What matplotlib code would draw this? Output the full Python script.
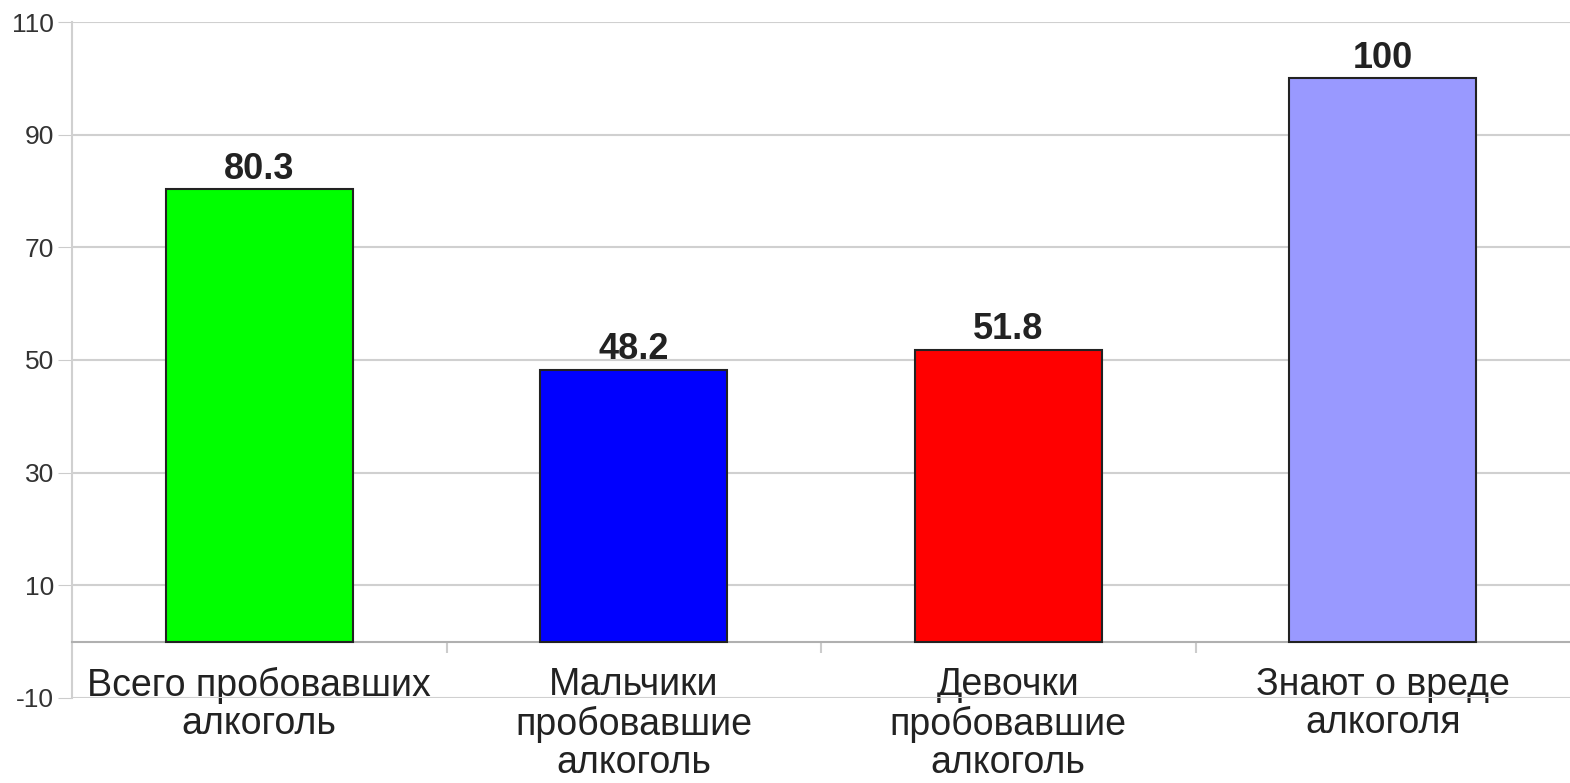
import numpy as np
import matplotlib.pyplot as plt
from matplotlib.ticker import FixedLocator

plt.rcParams['font.family'] = ['Liberation Sans', 'DejaVu Sans']
plt.rcParams['axes.unicode_minus'] = False

categories = ["Всего пробовавших\nалкоголь", "Мальчики\nпробовавшие\nалкоголь",
              "Девочки\nпробовавшие\nалкоголь", "Знают о вреде\nалкоголя"]
values = [80.3, 48.2, 51.8, 100]
value_labels = ["80.3", "48.2", "51.8", "100"]
colors = ["#00FF00", "#0000FF", "#FF0000", "#9999FF"]
yticks = [-10, 10, 30, 50, 70, 90, 110]

fig = plt.figure(figsize=(15.7, 7.83), dpi=100)
ax = fig.add_axes([0.0459, 0.1086, 0.9541, 0.8633])

x = np.arange(len(categories))
bars = ax.bar(x, values, width=0.5, color=colors, edgecolor="#222222", linewidth=1.5, zorder=3)

for xi, v, lab in zip(x, values, value_labels):
    ax.annotate(lab, (xi, v), xytext=(0, 2), textcoords="offset points",
                ha="center", va="bottom", fontsize=26, fontweight="bold", color="#222222")

ax.set_xlim(-0.5, len(categories) - 0.5)
ax.set_ylim(-10, 110)
ax.set_yticks(yticks)
ax.tick_params(axis="y", labelsize=19, length=10, color="#cccccc", labelcolor="#333333", pad=3)
ax.grid(axis="y", color="#d0d0d0", linewidth=1.5, zorder=0)

ax.spines["bottom"].set_position(("data", 0))
ax.spines["bottom"].set_color("#b0b0b0")
ax.spines["bottom"].set_linewidth(1.5)
ax.spines["left"].set_color("#d0d0d0")
ax.spines["left"].set_linewidth(1.5)
ax.spines["top"].set_visible(False)
ax.spines["right"].set_visible(False)

ax.set_xticks(x)
ax.set_xticklabels(categories, fontsize=27, color="#222222", linespacing=1.1)
ax.tick_params(axis="x", length=0, pad=18)
ax.xaxis.set_minor_locator(FixedLocator([0.5, 1.5, 2.5]))
ax.tick_params(axis="x", which="minor", length=8, color="#cccccc", width=1.5)

fig.savefig("out.png", dpi=100)
